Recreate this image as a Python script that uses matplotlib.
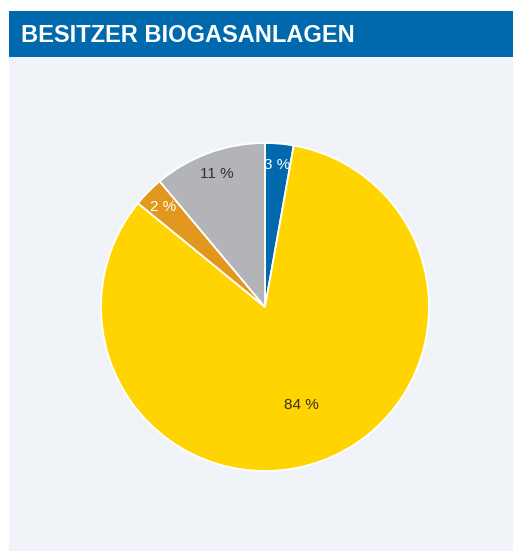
import matplotlib
matplotlib.use('Agg')
import matplotlib.pyplot as plt
from matplotlib.patches import Rectangle
import numpy as np

# shares (clockwise from top)
labels = ['3 %', '84 %', '2 %', '11 %']
values = [2.8, 83.1, 3.0, 11.1]
colors = ['#0069AD', '#FFD400', '#E2981E', '#B3B4B7']
text_colors = ['white', '#333333', 'white', '#333333']
label_dist = [0.87, 0.64, 0.87, 0.86]

W, H = 513, 551
fig = plt.figure(figsize=(W / 100, H / 100), dpi=100)
fig.patch.set_facecolor('white')

# light panel + title bar
fig.patches.append(Rectangle((9 / W, 0), 1 - 9 / W, (H - 57) / H,
                             transform=fig.transFigure, facecolor='#F0F3F8',
                             edgecolor='none', zorder=-2))
fig.patches.append(Rectangle((9 / W, (H - 57) / H), 1 - 9 / W, 46 / H,
                             transform=fig.transFigure, facecolor='#0069AD',
                             edgecolor='none', zorder=-2))
fig.text(21 / W, (H - 35) / H, 'BESITZER BIOGASANLAGEN', color='white',
         fontsize=17, fontweight='bold', va='center', ha='left',
         family=['Liberation Sans Narrow', 'Liberation Sans', 'DejaVu Sans'])

cx, cy, r = 265, 307, 164
ax = fig.add_axes([(cx - r) / W, (H - cy - r) / H, 2 * r / W, 2 * r / H])
ax.set_zorder(2)
ax.set_facecolor('none')
wedges, _ = ax.pie(values, colors=colors, startangle=90, counterclock=False,
                   radius=1, wedgeprops=dict(edgecolor='white', linewidth=1.3))
for w, lab, tc, d in zip(wedges, labels, text_colors, label_dist):
    ang = np.deg2rad((w.theta1 + w.theta2) / 2)
    ax.text(d * np.cos(ang), d * np.sin(ang), lab, ha='center', va='center',
            color=tc, fontsize=11, family=['Liberation Sans', 'DejaVu Sans'])
ax.set_xlim(-1, 1)
ax.set_ylim(-1, 1)
ax.set_aspect('equal')
ax.axis('off')

fig.savefig('out.png', dpi=100)
